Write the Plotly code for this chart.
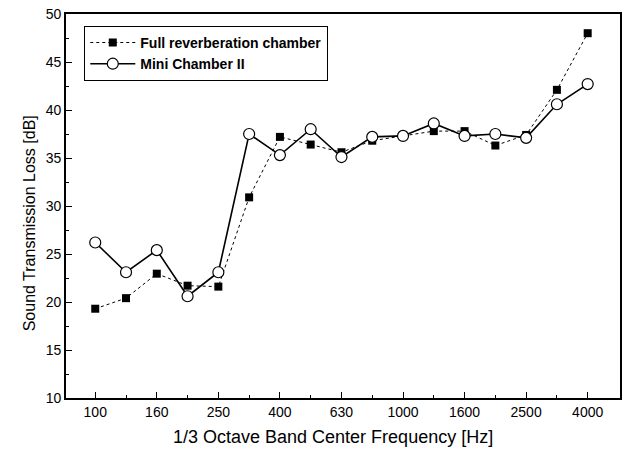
import plotly.graph_objects as go

freqs = ["100", "125", "160", "200", "250", "315", "400", "500", "630", "800",
         "1000", "1250", "1600", "2000", "2500", "3150", "4000"]
full_chamber = [19.3, 20.4, 22.95, 21.7, 21.6, 30.9, 37.2, 36.4, 35.6, 36.8,
                37.3, 37.8, 37.8, 36.3, 37.4, 42.1, 48.0]
mini_chamber = [26.2, 23.1, 25.4, 20.6, 23.1, 37.5, 35.3, 38.0, 35.1, 37.2,
                37.3, 38.6, 37.3, 37.5, 37.1, 40.6, 42.7]

idx = list(range(len(freqs)))
font = "Liberation Sans, Arial, sans-serif"

fig = go.Figure()
fig.add_trace(go.Scatter(
    x=idx, y=full_chamber, mode="lines+markers", name="Full reverberation chamber",
    line=dict(color="black", width=1, dash="dot"),
    marker=dict(symbol="square", size=8, color="black"),
))
fig.add_trace(go.Scatter(
    x=idx, y=mini_chamber, mode="lines+markers", name="Mini Chamber II",
    line=dict(color="black", width=1.6),
    marker=dict(symbol="circle", size=11, color="white", line=dict(color="black", width=1.2)),
))

fig.update_layout(
    width=627, height=449,
    margin=dict(l=66, r=7, t=14, b=51),
    paper_bgcolor="white", plot_bgcolor="white",
    font=dict(family=font, color="black", size=13),
    showlegend=True,
    legend=dict(x=0.033, y=0.969, xanchor="left", yanchor="top",
                bordercolor="black", borderwidth=1, bgcolor="white",
                font=dict(size=14, family=font, weight="bold"),
                itemwidth=45, tracegroupgap=0),
    annotations=[
        dict(text="1/3 Octave Band Center Frequency [Hz]", xref="paper", yref="paper",
             x=0.482, y=-0.1016, xanchor="center", yanchor="middle",
             showarrow=False, font=dict(size=18, color="black")),
        dict(text="Sound Transmission Loss [dB]", xref="paper", yref="paper",
             x=-0.066, y=0.456, xanchor="center", yanchor="middle", textangle=-90,
             showarrow=False, font=dict(size=16, color="black")),
    ],
)
fig.update_xaxes(
    automargin=False,
    range=[-0.95, 17.05], tickmode="array",
    tickvals=idx[::2], ticktext=freqs[::2],
    ticks="inside", ticklen=6, tickwidth=1.2, tickcolor="black",
    minor=dict(tickmode="array", tickvals=idx[1::2], ticks="inside", ticklen=3, tickcolor="black"),
    showline=True, linecolor="black", linewidth=1.8, mirror=True,
    showgrid=False, zeroline=False,
    tickfont=dict(size=14),
)
fig.update_yaxes(
    automargin=False,
    range=[10, 50], dtick=5, tick0=10,
    ticks="inside", ticklen=6, tickwidth=1.2, tickcolor="black",
    minor=dict(dtick=2.5, ticks="inside", ticklen=3, tickcolor="black"),
    showline=True, linecolor="black", linewidth=1.8, mirror=True,
    showgrid=False, zeroline=False,
    tickfont=dict(size=14),
)

fig.write_html("out.html", config={"displayModeBar": False},
               post_script="document.body.style.margin='0px';")
